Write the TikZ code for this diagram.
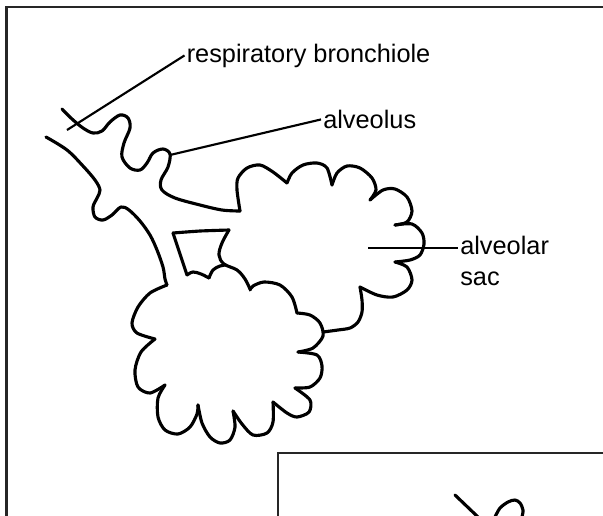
\documentclass[tikz,border=0pt]{standalone}
\usepackage{fontspec}
\setmainfont{Liberation Sans}
\begin{document}
\begin{tikzpicture}[x=0.75pt,y=-0.75pt,
  wall/.style={line width=2.35pt,line cap=round,line join=round},
  pointer/.style={line width=1.6pt},
  frame/.style={line width=1.7pt,draw=black!85},
  label/.style={font=\fontsize{19pt}{22pt}\selectfont,inner sep=1.5pt}]
\useasboundingbox (0,0) rectangle (603,515);

% panel frames
\draw[frame] (6.5,520) -- (6.5,7) -- (610,7);
\draw[frame] (278,520) -- (278,453) -- (610,453);

% upper wall of the bronchiole, with the alveolar pockets
\draw[wall] plot[smooth,tension=0.55] coordinates {(62,109) (72,119) (83,128) (93,133)
  (102,131) (110,122) (120,115) (128,118) (130,128) (124,143) (122,157) (130,168)
  (140,170) (147,163) (153,153) (163,149) (170,154) (168,167) (161,180) (162,190)
  (175,198) (200,205) (222,210) (240,211)};

% lower wall, leading into the lower branch
\draw[wall] plot[smooth,tension=0.55] coordinates {(46,137) (67,150) (83,166) (95,180)
  (100,190) (97,198) (93,207) (95,217) (103,220) (112,215) (121,207) (129,210)
  (140,221) (150,235) (157,250) (163,267) (165,279) (167,285)};

% gap between the two branches
\draw[wall] plot[smooth,tension=0.4] coordinates {(187,275) (180,254) (173,233)};
\draw[wall] plot[smooth,tension=0.3] coordinates {(173,233) (200,231) (229,230)};
\draw[wall] plot[smooth,tension=0.6] coordinates {(229,230) (222,243) (219,255)
  (224,264) (237,270) (245,279) (250,289)};
\draw[wall] plot[smooth,tension=0.6] coordinates {(187,275) (193,272) (201,274) (209,278)};
\draw[wall] plot[smooth,tension=0.6] coordinates {(209,278) (213,270) (220,266) (226,265)};

% upper alveolar sac
\draw[wall] plot[smooth] coordinates {(240,211) (237,190) (238,178) (247,168) (260,165) (273,172) (287,183)};
\draw[wall] plot[smooth] coordinates {(287,183) (292,173) (303,165) (317,163) (327,168) (332,185)};
\draw[wall] plot[smooth] coordinates {(332,185) (337,173) (347,166) (360,168) (372,178) (376,190) (370,200)};
\draw[wall] plot[smooth] coordinates {(370,200) (383,190) (395,189) (407,197) (412,211) (407,222) (395,225)};
\draw[wall] plot[smooth] coordinates {(395,225) (412,224) (422,233) (424,244) (420,255) (410,260) (395,262)};
\draw[wall] plot[smooth] coordinates {(395,262) (407,267) (412,280) (407,290) (393,297) (377,295) (360,287)};
\draw[wall] plot[smooth] coordinates {(360,287) (362,300) (362,312) (358,322) (350,328) (338,330) (323,332)};

% lower alveolar sac
\draw[wall] plot[smooth] coordinates {(167,285) (150,293) (138,307) (132,323) (137,333) (155,339)};
\draw[wall] plot[smooth] coordinates {(155,339) (141,352) (135,370) (138,387) (150,393) (165,385)};
\draw[wall] plot[smooth] coordinates {(165,385) (158,398) (158,417) (165,430) (178,434) (190,427) (197,414) (198,405)};
\draw[wall] plot[smooth] coordinates {(198,405) (202,423) (210,437) (220,443) (230,440) (235,427) (233,411)};
\draw[wall] plot[smooth] coordinates {(233,411) (242,424) (253,435) (267,433) (273,422) (273,402)};
\draw[wall] plot[smooth] coordinates {(273,402) (287,413) (297,417) (309,412) (310,400) (295,388)};
\draw[wall] plot[smooth] coordinates {(295,388) (310,387) (320,378) (322,366) (317,355) (298,352)};
\draw[wall] plot[smooth] coordinates {(298,352) (313,348) (323,336) (320,323) (310,315) (297,313)};
\draw[wall] plot[smooth] coordinates {(297,313) (292,297) (280,285) (264,282) (253,286) (250,290)};

% start of a second drawing in the lower panel
\draw[wall] (455,495) -- (478,517);
\draw[wall] plot[smooth] coordinates {(495,517) (500,508) (508,502) (515,500) (520,503) (523,510) (522,517)};

% labels
\node[label,anchor=base west] (rb) at (184.5,62) {respiratory bronchiole};
\node[label,anchor=base west] (alv) at (321,128.5) {alveolus};
\node[label,anchor=base west] (sac) at (458,254) {alveolar};
\node[label,anchor=base west] (sac2) at (458,285) {sac};

\coordinate (rbtip) at (67,130);
\coordinate (alvtip) at (170,155);
\coordinate (sactip) at (368,248);

\draw[pointer] (rbtip) -- (rb.west);
\draw[pointer] (alvtip) -- (alv.west);
\draw[pointer] (sactip) -- (sactip -| sac.west);
\end{tikzpicture}
\end{document}
